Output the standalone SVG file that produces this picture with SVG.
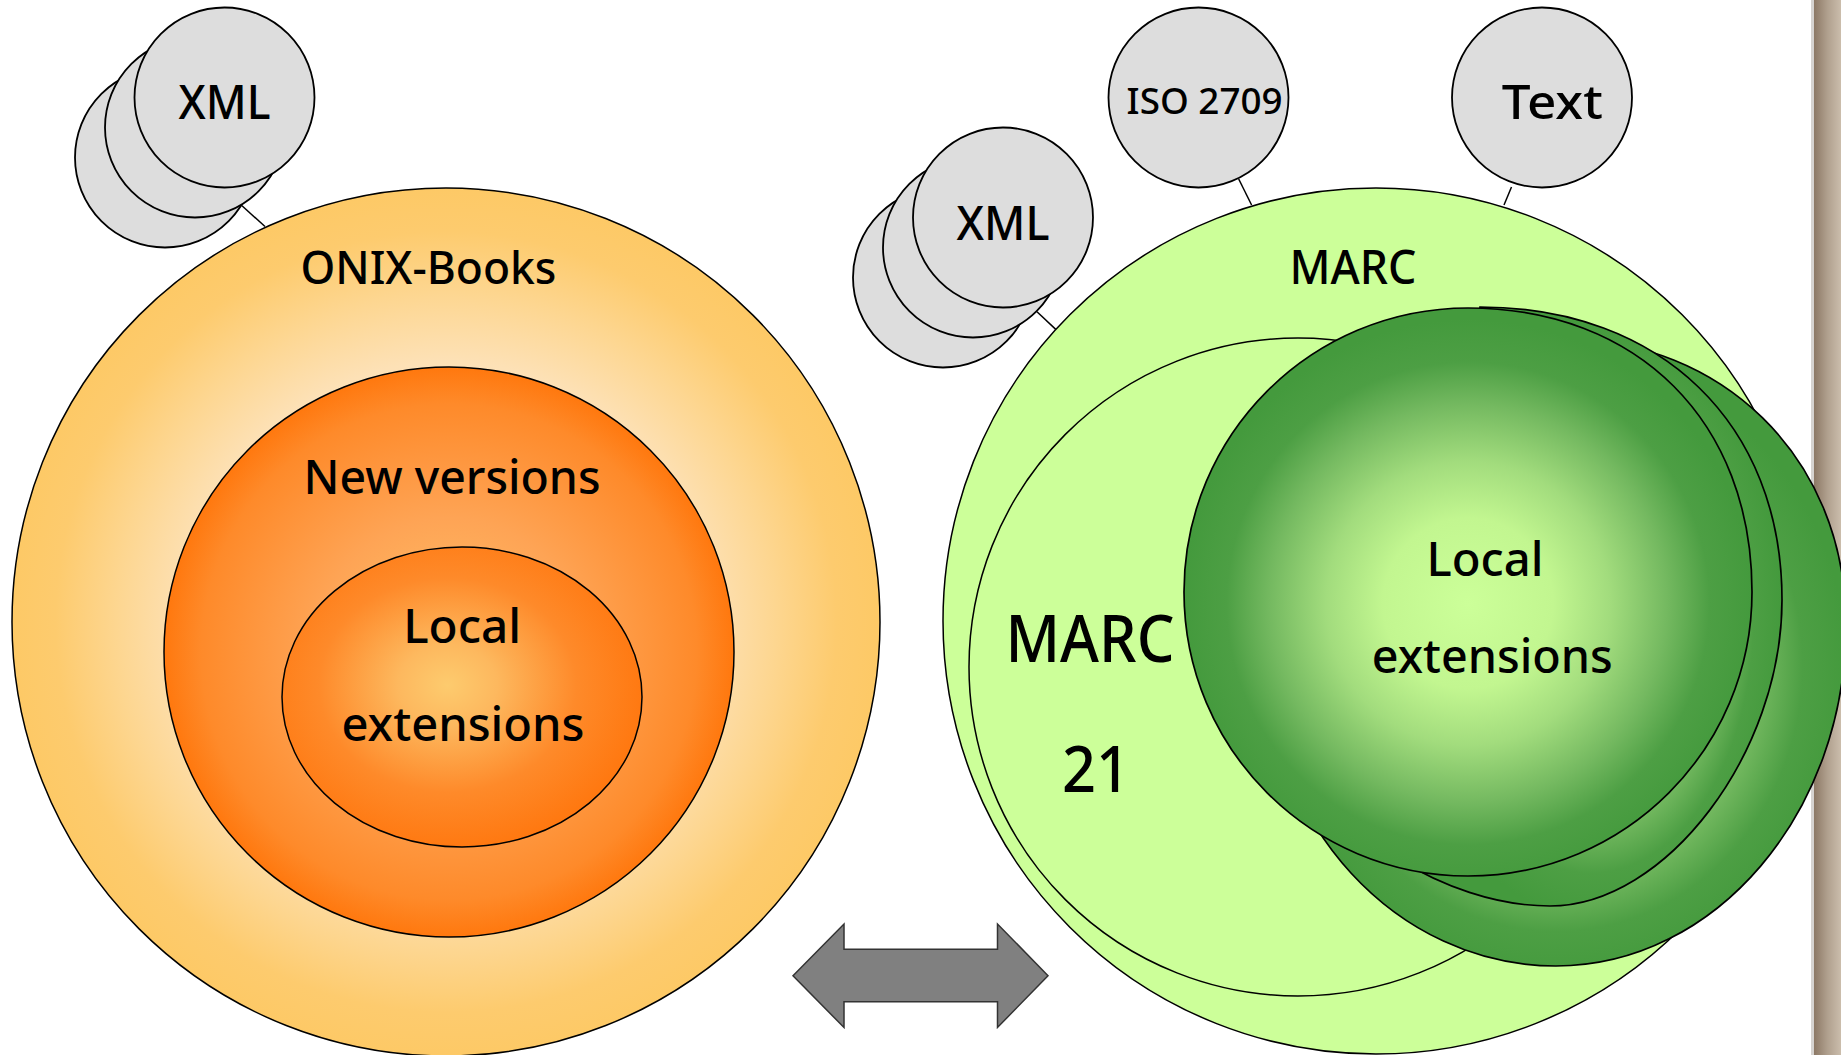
<svg xmlns="http://www.w3.org/2000/svg" width="1841" height="1055" viewBox="0 0 1841 1055">
<style>
.t{font-family:"Noto Sans","Liberation Sans",sans-serif;font-weight:500;fill:#000;text-anchor:middle}
.g{fill:#DDDDDD;stroke:#000;stroke-width:1.8}
.o{stroke:#000;stroke-width:1.5}
.c{stroke:#000;stroke-width:1.7}
</style>
<defs>
<linearGradient id="bar" x1="0" y1="0" x2="1" y2="0">
<stop offset="0" stop-color="#8C7865"/>
<stop offset="0.5" stop-color="#B0A08E"/>
<stop offset="1" stop-color="#CBBDAC"/>
</linearGradient>
<radialGradient id="onix" cx="0.5" cy="0.5" r="0.5">
<stop offset="0" stop-color="#FFF0D8"/>
<stop offset="0.6" stop-color="#FDE1B6"/>
<stop offset="0.76" stop-color="#FDD690"/>
<stop offset="0.9" stop-color="#FDCB6E"/>
<stop offset="1" stop-color="#FDC966"/>
</radialGradient>
<radialGradient id="newv" cx="0.5" cy="0.5" r="0.5">
<stop offset="0" stop-color="#FDC36A"/>
<stop offset="0.47" stop-color="#FEA455"/>
<stop offset="0.87" stop-color="#FE8A2A"/>
<stop offset="1" stop-color="#FF780E"/>
</radialGradient>
<radialGradient id="locl" cx="0.46" cy="0.46" r="0.55">
<stop offset="0" stop-color="#FDCB6E"/>
<stop offset="0.25" stop-color="#FDB85E"/>
<stop offset="0.65" stop-color="#FE8A2A"/>
<stop offset="1" stop-color="#FF7810"/>
</radialGradient>
<radialGradient id="grn" cx="0.5" cy="0.52" r="0.5">
<stop offset="0" stop-color="#CCFF99"/>
<stop offset="0.3" stop-color="#C2F690"/>
<stop offset="0.5" stop-color="#A2DC7D"/>
<stop offset="0.7" stop-color="#74B960"/>
<stop offset="0.85" stop-color="#4D9F44"/>
<stop offset="1" stop-color="#449A3D"/>
</radialGradient>
</defs>
<rect x="0" y="0" width="1841" height="1055" fill="#FFFFFF"/>
<rect x="1811" y="0" width="3" height="1055" fill="#D6D3D0"/>
<rect x="1814" y="0" width="27" height="1055" fill="url(#bar)"/>

<g id="connectors" stroke="#000" stroke-width="1.5">
<line x1="240.6" y1="204.5" x2="265" y2="226.5"/>
<line x1="1037" y1="311.7" x2="1056" y2="329.6"/>
<line x1="1238.7" y1="179" x2="1251.6" y2="205"/>
<line x1="1511.5" y1="187" x2="1504" y2="205"/>
</g>

<g id="onix-books">
<circle class="o" cx="446" cy="622" r="434" fill="url(#onix)"/>
<text class="t" x="428.4" y="284" font-size="45" textLength="256" lengthAdjust="spacingAndGlyphs">ONIX-Books</text>
</g>
<g id="new-versions">
<circle class="o" cx="449" cy="652" r="285" fill="url(#newv)"/>
<text class="t" x="452" y="493.6" font-size="47" textLength="297" lengthAdjust="spacingAndGlyphs">New versions</text>
</g>
<g id="onix-local-extensions">
<ellipse class="o" cx="462" cy="697" rx="180" ry="150" fill="url(#locl)"/>
<text class="t" x="462.2" y="643" font-size="48" textLength="118" lengthAdjust="spacingAndGlyphs">Local</text>
<text class="t" x="463" y="741" font-size="48" textLength="243" lengthAdjust="spacingAndGlyphs">extensions</text>
</g>
<g id="onix-xml">
<circle class="g" cx="165" cy="157.5" r="90"/>
<circle class="g" cx="195" cy="127.5" r="90"/>
<circle class="g" cx="224.5" cy="97.5" r="90"/>
<text class="t" x="224.5" y="119" font-size="47" textLength="92" lengthAdjust="spacingAndGlyphs">XML</text>
</g>

<g id="marc">
<circle class="o" cx="1376" cy="621" r="433" fill="#CCFF99"/>
<text class="t" x="1353" y="284" font-size="47" textLength="127" lengthAdjust="spacingAndGlyphs">MARC</text>
</g>
<g id="marc21">
<circle class="o" cx="1298" cy="667" r="329" fill="#CCFF99"/>
<text class="t" x="1090" y="662" font-size="66" textLength="169" lengthAdjust="spacingAndGlyphs">MARC</text>
<text class="t" x="1096" y="792" font-size="64" textLength="68" lengthAdjust="spacingAndGlyphs">21</text>
</g>
<g id="marc-local-extensions">
<path class="c" fill="url(#grn)" d="M1570,340 C1715,340 1846,452 1846,625 C1846,812.6 1715.5,966 1556,966 C1396.5,966 1266,824 1266,650 L1468,592 Z"/>
<path class="c" fill="url(#grn)" d="M1480,307 C1661,307 1782,424 1782,600 C1782,753 1666,906 1550,906 C1495,906 1440,885 1400,860 L1468,600 Z"/>
<path class="c" fill="url(#grn)" d="M1468,308 C1638,308 1752,422 1752,592 C1752,748.9 1624.9,876 1468,876 C1311.1,876 1184,748.9 1184,592 C1184,435.1 1311.1,308 1468,308 Z"/>
<text class="t" x="1485" y="575.7" font-size="47" textLength="117" lengthAdjust="spacingAndGlyphs">Local</text>
<text class="t" x="1492.3" y="673.3" font-size="47" textLength="241" lengthAdjust="spacingAndGlyphs">extensions</text>
</g>
<g id="marc-xml">
<circle class="g" cx="943" cy="277.5" r="90"/>
<circle class="g" cx="973" cy="247.5" r="90"/>
<circle class="g" cx="1003" cy="217.5" r="90"/>
<text class="t" x="1003" y="240" font-size="47" textLength="93" lengthAdjust="spacingAndGlyphs">XML</text>
</g>
<g id="iso2709">
<circle class="g" cx="1198.5" cy="97.5" r="90"/>
<text class="t" x="1204.6" y="114" font-size="37" textLength="156" lengthAdjust="spacingAndGlyphs">ISO 2709</text>
</g>
<g id="text">
<circle class="g" cx="1542" cy="97.5" r="90"/>
<text class="t" x="1552.3" y="119" font-size="48" textLength="101" lengthAdjust="spacingAndGlyphs">Text</text>
</g>

<g id="exchange-arrow">
<polygon points="793,975.7 844,924 844,949.3 997.5,949.3 997.5,924 1048,975.7 997.5,1027.5 997.5,1001.7 844,1001.7 844,1027.5" fill="#808080" stroke="#333" stroke-width="1.5"/>
</g>
</svg>
